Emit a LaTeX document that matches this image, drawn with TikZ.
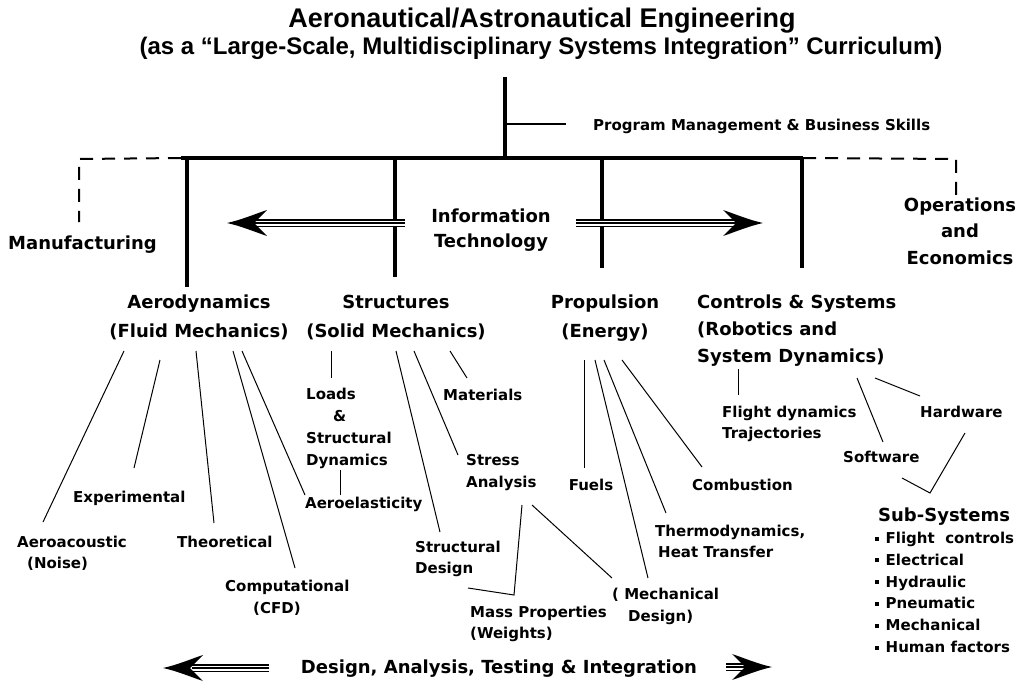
\documentclass[tikz,border=0pt]{standalone}
\usepackage{fontspec}
\setmainfont{DejaVu Sans}
\newfontfamily\headfont{Liberation Sans}
\newcommand\sqbullet{\rule[3pt]{3.5pt}{4pt}\hspace{7pt}}
\begin{document}
\begin{tikzpicture}[x=1pt,y=-1pt,
  heavy/.style={line width=3.5pt},
  thinlink/.style={line width=1pt},
  dashlink/.style={line width=2pt, dash pattern=on 13pt off 9pt},
  main/.style={font=\fontsize{18}{27}\selectfont\bfseries, inner sep=0pt, align=center, anchor=base},
  leaf/.style={font=\fontsize{15}{21.5}\selectfont\bfseries, inner sep=0pt, align=left, anchor=base west},
  shaft/.style={line width=8pt, postaction={draw=white,line width=5pt}, postaction={draw=black,line width=1.3pt}},
  barb/.pic={\fill (0,0) .. controls (-14,-3) and (-28,-9) .. (-40,-13) -- (-27,0) -- (-40,13) .. controls (-28,9) and (-14,3) .. (0,0) -- cycle;}
]
\useasboundingbox (0,0) rectangle (1021,685);
% multi-line nodes are placed by the baseline of their last line

% ---- title ----
\node[inner sep=0pt, anchor=base, font=\headfont\bfseries\fontsize{27}{30}\selectfont] (title) at (542,28) {Aeronautical/Astronautical Engineering};
\node[inner sep=0pt, anchor=base, font=\headfont\bfseries\fontsize{24}{28}\selectfont] (subtitle) at (541,55) {(as a “Large-Scale, Multidisciplinary Systems Integration” Curriculum)};

% ---- trunk and main bar ----
\coordinate (trunktop) at (505,77);
\coordinate (trunkbot) at (505,158);
\coordinate (pmstart) at (505,124);
\coordinate (pmend) at (566,124);
\coordinate (barL) at (181,158);
\coordinate (barR) at (803,158);
\draw[heavy] (trunktop) -- (trunkbot);
\draw[line width=2pt] (pmstart) -- (pmend);
\draw[heavy] (barL) -- (barR);
\node[leaf] (pm) at (593,130) {Program Management \& Business Skills};

% ---- dashed side branches ----
\coordinate (mfcorner) at (79,159);
\coordinate (mfend) at (79,222);
\coordinate (opcorner) at (956,159);
\coordinate (opend) at (956,195);
\draw[dashlink] (barL) -- (mfcorner) -- (mfend);
\draw[dashlink] (barR) -- (opcorner) -- (opend);
\node[main, anchor=base west] (manuf) at (8,249) {Manufacturing};
\node[main, font=\fontsize{18}{26.5}\selectfont\bfseries] (ops) at (960,264) {Operations\\and\\Economics};

% ---- discipline drops ----
\coordinate (aeroTop) at (187,158);
\coordinate (aeroBot) at (187,287);
\coordinate (strTop) at (395,158);
\coordinate (strBot) at (395,277);
\coordinate (propTop) at (602,158);
\coordinate (propBot) at (602,268);
\coordinate (ctrlTop) at (802,158);
\coordinate (ctrlBot) at (802,268);
\draw[heavy] (aeroTop) -- (aeroBot);
\draw[heavy] (strTop) -- (strBot);
\draw[heavy] (propTop) -- (propBot);
\draw[heavy] (ctrlTop) -- (ctrlBot);

% ---- information technology arrows ----
\node[main, font=\fontsize{18}{25}\selectfont\bfseries] (it) at (491,247) {Information\\Technology};
\coordinate (itLs) at (405,223);
\coordinate (itLe) at (252,223);
\coordinate (itLtip) at (227,223);
\coordinate (itRs) at (576,223);
\coordinate (itRe) at (740,223);
\coordinate (itRtip) at (763,223);
\draw[shaft] (itLs) -- (itLe);
\draw[shaft] (itRs) -- (itRe);
\pic[rotate=180] at (itLtip) {barb};
\pic at (itRtip) {barb};

% ---- disciplines ----
\node[main, font=\fontsize{18}{29}\selectfont\bfseries] (aero) at (199,337) {Aerodynamics\\(Fluid Mechanics)};
\node[main, font=\fontsize{18}{29}\selectfont\bfseries] (str) at (396,337) {Structures\\(Solid Mechanics)};
\node[main, font=\fontsize{18}{29}\selectfont\bfseries] (prop) at (605,337) {Propulsion\\(Energy)};
\node[main, align=left, anchor=base west, font=\fontsize{18}{27}\selectfont\bfseries] (ctrl) at (697,362) {Controls \& Systems\\(Robotics and\\System Dynamics)};

% ---- aerodynamics topics ----
\node[leaf] (exper) at (73,502) {Experimental};
\node[leaf] (aeroac) at (17,568.5) {Aeroacoustic\\\hspace*{10pt}(Noise)};
\node[leaf] (theor) at (177,547) {Theoretical};
\node[leaf, font=\fontsize{15}{22}\selectfont\bfseries] (comp) at (225,613) {Computational\\\hspace*{28pt}(CFD)};
\node[leaf] (aeroel) at (305,508) {Aeroelasticity};
\coordinate (a1s) at (124,351); \coordinate (a1e) at (43,522);
\coordinate (a2s) at (160,360); \coordinate (a2e) at (134,468);
\coordinate (a3s) at (196,351); \coordinate (a3e) at (214,523);
\coordinate (a4s) at (233,351); \coordinate (a4e) at (295,568);
\coordinate (a5s) at (242,351); \coordinate (a5e) at (305,495);
\draw[thinlink] (a1s) -- (a1e);
\draw[thinlink] (a2s) -- (a2e);
\draw[thinlink] (a3s) -- (a3e);
\draw[thinlink] (a4s) -- (a4e);
\draw[thinlink] (a5s) -- (a5e);

% ---- structures topics ----
\node[leaf, font=\fontsize{15}{21.7}\selectfont\bfseries] (loads) at (306,465) {Loads\\\hspace*{27pt}\&\\Structural\\Dynamics};
\node[leaf] (mater) at (443,400) {Materials};
\node[leaf, font=\fontsize{15}{22}\selectfont\bfseries] (stress) at (466,487) {Stress\\Analysis};
\node[leaf, font=\fontsize{15}{21}\selectfont\bfseries] (sdes) at (415,573) {Structural\\Design};
\node[leaf, font=\fontsize{15}{21}\selectfont\bfseries] (mass) at (470,638) {Mass Properties\\(Weights)};
\node[leaf, font=\fontsize{15}{22}\selectfont\bfseries] (mech) at (612,621) {( Mechanical\\\hspace*{16pt}Design)};
\coordinate (s1s) at (331,351); \coordinate (s1e) at (331,378);
\coordinate (s2s) at (340,470); \coordinate (s2e) at (340,495);
\coordinate (s3s) at (396,351); \coordinate (s3e) at (440,532);
\coordinate (s4s) at (414,351); \coordinate (s4e) at (458,455);
\coordinate (s5s) at (450,351); \coordinate (s5e) at (467,378);
\coordinate (m1s) at (522,505); \coordinate (m1k) at (514,595); \coordinate (m1e) at (468,588);
\coordinate (m2s) at (532,505); \coordinate (m2e) at (612,578);
\draw[thinlink] (s1s) -- (s1e);
\draw[thinlink] (s2s) -- (s2e);
\draw[thinlink] (s3s) -- (s3e);
\draw[thinlink] (s4s) -- (s4e);
\draw[thinlink] (s5s) -- (s5e);
\draw[thinlink] (m1s) -- (m1k) -- (m1e);
\draw[thinlink] (m2s) -- (m2e);

% ---- propulsion topics ----
\node[leaf, anchor=base] (fuels) at (591,490) {Fuels};
\node[leaf] (comb) at (692,490) {Combustion};
\node[leaf, font=\fontsize{15}{21}\selectfont\bfseries] (thermo) at (655,557) {Thermodynamics,\\\hspace*{3pt}Heat Transfer};
\coordinate (p1s) at (584,360); \coordinate (p1e) at (584,468);
\coordinate (p2s) at (595,360); \coordinate (p2e) at (648,578);
\coordinate (p3s) at (604,360); \coordinate (p3e) at (666,513);
\coordinate (p4s) at (622,360); \coordinate (p4e) at (702,467);
\draw[thinlink] (p1s) -- (p1e);
\draw[thinlink] (p2s) -- (p2e);
\draw[thinlink] (p3s) -- (p3e);
\draw[thinlink] (p4s) -- (p4e);

% ---- controls topics ----
\node[leaf, font=\fontsize{15}{21}\selectfont\bfseries] (flight) at (722,438) {Flight dynamics\\Trajectories};
\node[leaf] (hard) at (920,417) {Hardware};
\node[leaf] (soft) at (843,462) {Software};
\node[main, anchor=base west] (subsys) at (878,521) {Sub-Systems};
\node[leaf, font=\fontsize{15}{21.8}\selectfont\bfseries] (items) at (875,652.5) {\sqbullet Flight\ \ controls\\\sqbullet Electrical\\\sqbullet Hydraulic\\\sqbullet Pneumatic\\\sqbullet Mechanical\\\sqbullet Human factors};
\coordinate (c1s) at (738,369); \coordinate (c1e) at (738,395);
\coordinate (c2s) at (857,378); \coordinate (c2e) at (883,442);
\coordinate (c3s) at (875,378); \coordinate (c3e) at (920,396);
\coordinate (c4s) at (965,433); \coordinate (vee) at (930,493);
\coordinate (c5s) at (902,478);
\draw[thinlink] (c1s) -- (c1e);
\draw[thinlink] (c2s) -- (c2e);
\draw[thinlink] (c3s) -- (c3e);
\draw[thinlink] (c4s) -- (vee) -- (c5s);

% ---- bottom band ----
\node[main] (dati) at (499,673) {Design, Analysis, Testing \& Integration};
\coordinate (bLs) at (269,668);
\coordinate (bLe) at (192,668);
\coordinate (bLtip) at (163,668);
\coordinate (bRs) at (726,667);
\coordinate (bRe) at (752,667);
\coordinate (bRtip) at (772,667);
\draw[shaft] (bLs) -- (bLe);
\draw[shaft] (bRs) -- (bRe);
\pic[rotate=180] at (bLtip) {barb};
\pic at (bRtip) {barb};
\end{tikzpicture}
\end{document}
